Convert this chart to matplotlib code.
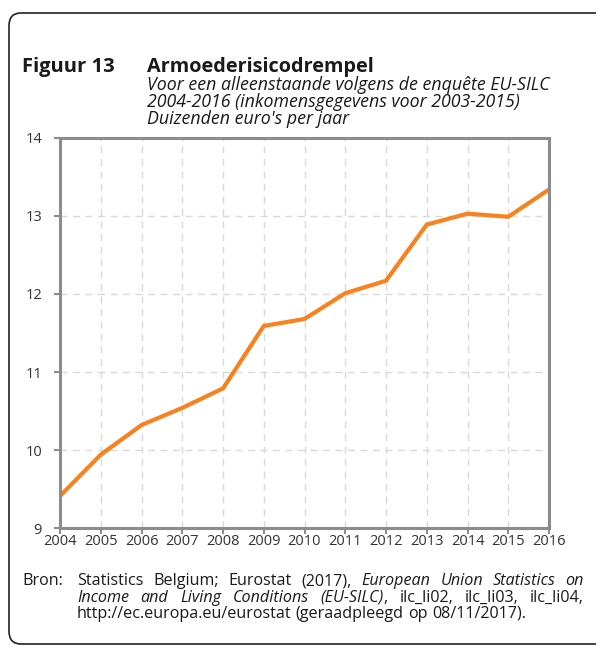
import matplotlib.pyplot as plt
from matplotlib.patches import FancyBboxPatch

jaren = list(range(2004, 2017))
drempel = [9.41, 9.94, 10.32, 10.54, 10.79, 11.59, 11.68, 12.01, 12.17,
           12.89, 13.03, 12.99, 13.34]
y_ticks = [9, 10, 11, 12, 13, 14]

titel_nr = "Figuur 13"
titel = "Armoederisicodrempel"
ondertitel = ["Voor een alleenstaande volgens de enquête EU-SILC",
              "2004-2016 (inkomensgegevens voor 2003-2015)",
              "Duizenden euro's per jaar"]

# bronregels: (tekst, cursief)
bron = [
    [("Statistics Belgium; Eurostat (2017), ", False),
     ("European Union Statistics on", True)],
    [("Income and Living Conditions (EU-SILC)", True),
     (", ilc_li02, ilc_li03, ilc_li04,", False)],
    [("http://ec.europa.eu/eurostat (geraadpleegd op 08/11/2017).", False)],
]

plt.rcParams['font.family'] = ['Open Sans', 'DejaVu Sans']
TXT = "#1a1a1a"
W, H = 596, 649
fig = plt.figure(figsize=(W / 100, H / 100), dpi=100)

# kader
kader = FancyBboxPatch((9 / W, 5 / H), 700 / W, 631 / H,
                       boxstyle="round,pad=0,rounding_size=0.02",
                       transform=fig.transFigure, fill=False,
                       edgecolor="#222222", linewidth=1.2)
fig.patches.append(kader)

ax = fig.add_axes([60 / W, (H - 528) / H, 489 / W, 390 / H])
ax.plot(jaren, drempel, color="#F7821F", linewidth=3, solid_joinstyle='miter')
ax.set_xlim(2004, 2016)
ax.set_ylim(9, 14)
ax.set_xticks(jaren)
ax.set_yticks(y_ticks)
ax.grid(True, color="#D9D9D9", linestyle=(0, (5, 4)), linewidth=1)
for s in ax.spines.values():
    s.set_color("#8C8C8C")
    s.set_linewidth(2.2)
ax.tick_params(axis='both', colors="#8C8C8C", labelcolor="#333333",
               labelsize=10.5, length=4, width=1.5)
ax.tick_params(axis='x', pad=0)
ax.tick_params(axis='y', pad=9)

fig.text(22 / W, 1 - 72 / H, titel_nr, fontsize=14.5, fontweight='bold',
         color=TXT, va='baseline')
fig.text(147 / W, 1 - 72 / H, titel, fontsize=14.3, fontweight='bold',
         color=TXT, va='baseline')
for i, regel in enumerate(ondertitel):
    fig.text(147 / W, 1 - (90 + 17 * i) / H, regel, fontsize=12.8,
             style='italic', color=TXT, va='baseline')

FS = 11.6
fig.text(22 / W, 1 - 585 / H, "Bron:", fontsize=FS, color=TXT, va='baseline')

# bron met uitvulling
fig.canvas.draw()
r = fig.canvas.get_renderer()
x_links, x_rechts = 77, 584
t1 = fig.text(0, 0, "a b", fontsize=FS)
t2 = fig.text(0, 0, "ab", fontsize=FS)
spatie = t1.get_window_extent(r).width - t2.get_window_extent(r).width
t1.remove()
t2.remove()
for i, regel in enumerate(bron):
    y = 1 - (585 + 16.5 * i) / H
    woorden = []  # elk woord: lijst van (stuk, cursief)
    open_eind = False
    for tekst, cursief in regel:
        delen = tekst.split(" ")
        for j, d in enumerate(delen):
            if j == 0 and open_eind and woorden and d:
                woorden[-1].append((d, cursief))
            elif d:
                woorden.append([(d, cursief)])
        open_eind = not tekst.endswith(" ")
    items = []
    totaal = 0
    for woord in woorden:
        stukken = []
        breedte = 0
        for d, cursief in woord:
            t = fig.text(0, y, d, fontsize=FS, color=TXT, va='baseline',
                         style='italic' if cursief else 'normal')
            b = t.get_window_extent(r).width
            stukken.append((t, breedte))
            breedte += b
        items.append((stukken, breedte))
        totaal += breedte
    if i < len(bron) - 1 and len(items) > 1:
        gap = (x_rechts - x_links - totaal) / (len(items) - 1)
    else:
        gap = spatie
    x = x_links
    for stukken, breedte in items:
        for t, dx in stukken:
            t.set_x((x + dx) / W)
        x += breedte + gap

fig.savefig("out.png", dpi=100)
